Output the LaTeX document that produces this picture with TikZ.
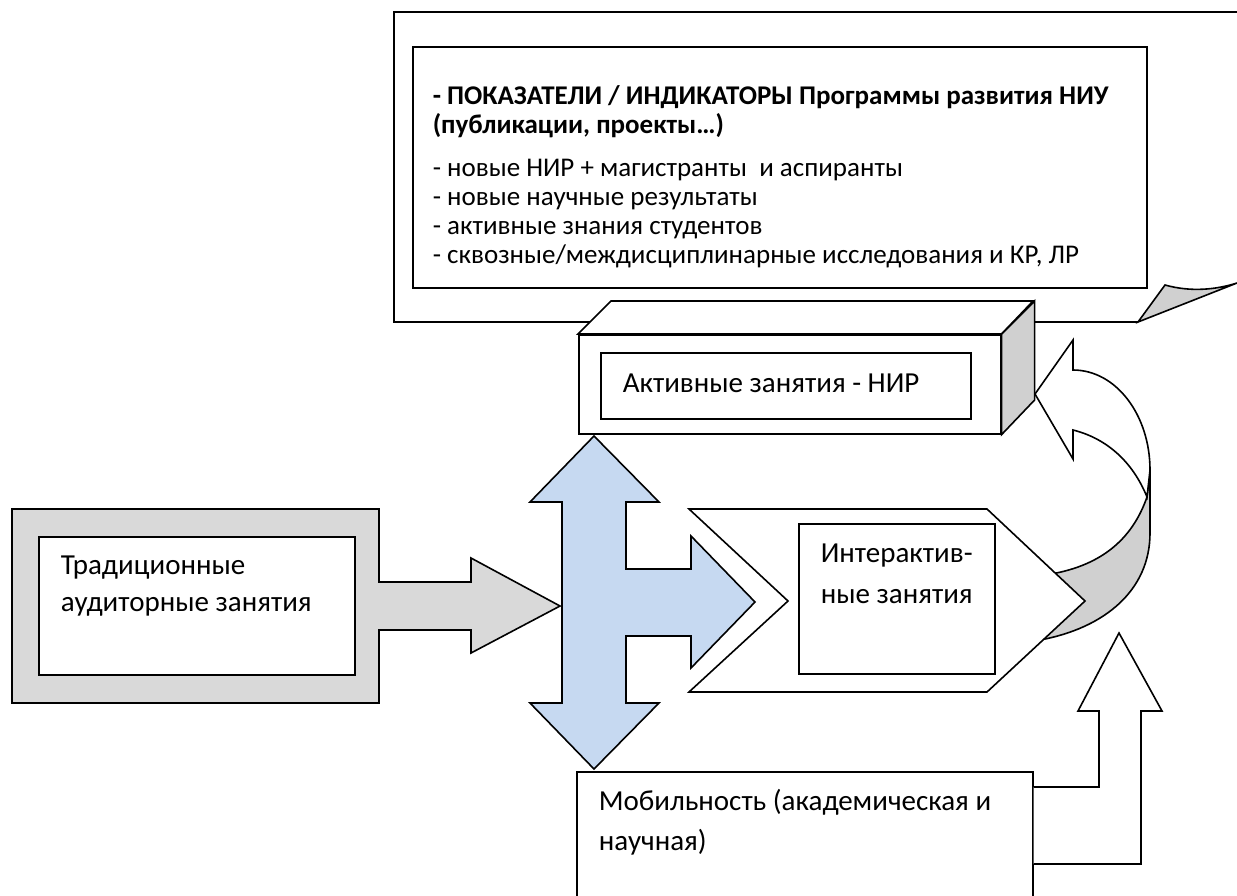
\documentclass[tikz,border=0pt]{standalone}
\usepackage{fontspec}
\setmainfont{Carlito}
\usetikzlibrary{shapes,arrows,calc,positioning,backgrounds}

\definecolor{boxgray}{RGB}{217,217,217}
\definecolor{sidegray}{RGB}{208,208,208}
\definecolor{crossblue}{RGB}{198,217,241}

\tikzset{
  frame/.style={draw,rectangle,fill=white,inner sep=0pt,anchor=north west},
  txt/.style={anchor=base west,inner sep=0pt,align=left,font=\fontsize{14.5}{18.5}\selectfont},
  smalltxt/.style={anchor=base west,inner sep=0pt,align=left,font=\fontsize{13.5}{14.5}\selectfont}
}

\begin{document}
\begin{tikzpicture}[x=0.5pt,y=-0.5pt,line width=0.8pt]
  \path[use as bounding box] (0,0) rectangle (1237,895);
  \clip (0,0) rectangle (1237,895);

  \draw (1237,12) -- (394,12) -- (394,322) -- (1138,322);
  \filldraw[fill=sidegray] (1138,322) -- (1165,285) .. controls (1190,292) and (1215,290) .. (1237,283) -- cycle;
  \node[frame, minimum width=367pt, minimum height=120.5pt] (ind) at (412,46) {};
  \node[smalltxt] (indtext) at (432,263) {\textbf{- ПОКАЗАТЕЛИ / ИНДИКАТОРЫ Программы развития НИУ}\\
    \textbf{(публикации, проекты…)}\\[7pt]
    - новые НИР + магистранты\ \ и аспиранты\\
    - новые научные результаты\\
    - активные знания студентов\\
    - сквозные/междисциплинарные исследования и КР, ЛР};

  \node[frame, minimum width=211pt, minimum height=49.5pt] (nir) at (578,334) {};
  \filldraw[fill=white] (nir.north west) -- ++(33,-33) -- ++(422,0) -- (nir.north east) -- cycle;
  \filldraw[fill=sidegray] (nir.north east) -- ++(33,-33) -- ++(0,99) -- (nir.south east) -- cycle;
  \node[frame, minimum width=185pt, minimum height=33pt] (nirin) at (600,352) {};
  \node[txt] (nirtext) at (622,392) {Активные занятия - НИР};

  \filldraw[fill=boxgray] (12,509) -- (379,509) -- (379,582) -- (471,582) -- (471,558) -- (560,606)
    -- (471,653) -- (471,630) -- (379,630) -- (379,703) -- (12,703) -- cycle;
  \node[frame, minimum width=158pt, minimum height=69pt] (trad) at (38,536) {};
  \node[txt] (tradtext) at (60,611) {Традиционные\\аудиторные занятия};

  \filldraw[fill=crossblue] (594,436) -- (659,502) -- (626,502) -- (626,569) -- (691,569) -- (691,536)
    -- (755,602) -- (691,668) -- (691,636) -- (626,636) -- (626,703) -- (659,703) -- (594,769)
    -- (530,703) -- (562,703) -- (562,502) -- (530,502) -- cycle;

  \filldraw[fill=sidegray] (1150,470) -- (1150,533) .. controls (1150,590) and (1105,628) .. (1040,640)
    -- (1030,610) -- (1045,575) .. controls (1100,567) and (1132,540) .. (1147,497) -- cycle;
  \filldraw[fill=white] (689,509) -- (987,509) -- (1085,601) -- (987,692) -- (689,692) -- (788,601) -- cycle;
  \node[frame, minimum width=98pt, minimum height=75pt] (inter) at (798,523) {};
  \node[txt, font=\fontsize{14.5}{20.5}\selectfont] (intertext) at (820,603) {Интерактив-\\ные занятия};
  \filldraw[fill=white] (1035,394) -- (1073,340) -- (1073,370) .. controls (1116,370) and (1150,415) .. (1150,470)
    -- (1147,497) .. controls (1132,460) and (1105,438) .. (1073,430) -- (1073,459) -- cycle;

  \node[frame, minimum width=228pt, minimum height=80pt] (mob) at (576,771) {};
  \node[txt, font=\fontsize{14.5}{20}\selectfont] (mobtext) at (598,850) {Мобильность (академическая и\\научная)};
  \filldraw[fill=white] (mob.east |- 0,787) -- (1099,787) -- (1099,711) -- (1078,711) -- (1119,633) -- (1162,711)
    -- (1141,711) -- (1141,864) -- (mob.east |- 0,864);
\end{tikzpicture}
\end{document}
